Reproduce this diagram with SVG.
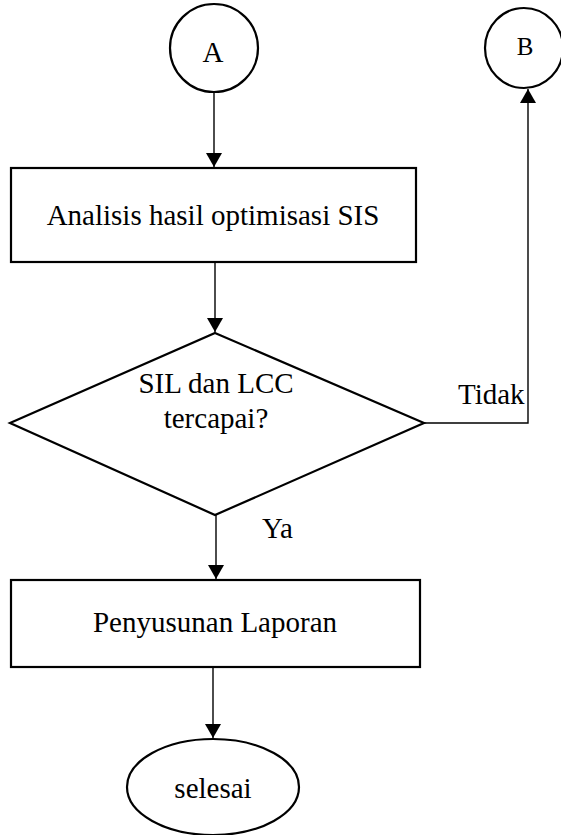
<svg xmlns="http://www.w3.org/2000/svg" width="561" height="835" viewBox="0 0 561 835">
<style>
.shape{fill:#fff;stroke:#000;stroke-width:2.2}
.conn{fill:none;stroke:#000;stroke-width:1.4}
text{font-family:"Liberation Serif","Times New Roman",serif;font-size:29px;fill:#000}
.c{text-anchor:middle}
</style>
<defs>
<marker id="arr" viewBox="0 0 14 16" refX="14" refY="8" markerWidth="14" markerHeight="16" markerUnits="userSpaceOnUse" orient="auto">
<path d="M0,0 L14,8 L0,16 Z" fill="#000"/>
</marker>
</defs>
<g id="connectors">
<path class="conn" d="M214,92 V167" marker-end="url(#arr)"/>
<path class="conn" d="M215,262 V332" marker-end="url(#arr)"/>
<path class="conn" d="M216,515 V579" marker-end="url(#arr)"/>
<path class="conn" d="M213,667 V738" marker-end="url(#arr)"/>
<path class="conn" d="M424,423 H528 V89" marker-end="url(#arr)"/>
<text x="458" y="404">Tidak</text>
<text x="262" y="538">Ya</text>
</g>
<g id="nodeA">
<circle class="shape" cx="214" cy="48" r="44"/>
<text class="c" x="213" y="62">A</text>
</g>
<g id="nodeB">
<ellipse class="shape" cx="524" cy="48" rx="39" ry="40"/>
<text class="c" x="525" y="55" style="font-size:25px">B</text>
</g>
<g id="analisis">
<rect class="shape" x="11" y="168" width="405" height="94"/>
<text class="c" x="213" y="225">Analisis hasil optimisasi SIS</text>
</g>
<g id="decision">
<polygon class="shape" points="215,333 424,423 215,515 10,423"/>
<text class="c" x="216" y="393">SIL dan LCC</text>
<text class="c" x="216" y="428">tercapai?</text>
</g>
<g id="laporan">
<rect class="shape" x="11" y="580" width="409" height="87"/>
<text class="c" x="215" y="632">Penyusunan Laporan</text>
</g>
<g id="selesai">
<ellipse class="shape" cx="213" cy="787" rx="86" ry="48"/>
<text class="c" x="213" y="798">selesai</text>
</g>
</svg>
